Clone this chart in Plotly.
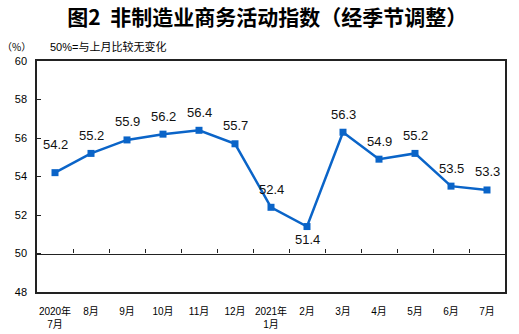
import plotly.graph_objects as go

# Monthly non-manufacturing business activity index (seasonally adjusted)
months = ["2020年<br>7月", "8月", "9月", "10月", "11月", "12月",
          "2021年<br>1月", "2月", "3月", "4月", "5月", "6月", "7月"]
index_values = [54.2, 55.2, 55.9, 56.2, 56.4, 55.7,
                52.4, 51.4, 56.3, 54.9, 55.2, 53.5, 53.3]
y_ticks = [48, 50, 52, 54, 56, 58, 60]

LINE_BLUE = "#0A64C8"
AXIS_COLOR = "#222222"
NUM_FONT = "Liberation Sans, Arial, sans-serif"
CJK_FONT = "Liberation Sans, Noto Sans CJK SC, sans-serif"

fig = go.Figure()

fig.add_trace(go.Scatter(
    x=months, y=index_values,
    mode="lines+markers",
    line=dict(color=LINE_BLUE, width=2.5),
    marker=dict(symbol="square", size=7, color=LINE_BLUE),
    hoverinfo="x+y",
    showlegend=False,
))

# helper trace so the 50% reference axis gets drawn
fig.add_trace(go.Scatter(
    x=months, y=index_values, xaxis="x2",
    mode="lines", line=dict(width=0),
    hoverinfo="skip", showlegend=False,
))

# value labels: above each point, the February low sits below its marker
label_shift = {0: 28, 7: -13}
for i, (m, v) in enumerate(zip(months, index_values)):
    fig.add_annotation(
        x=m, y=v, text=f"{v:.1f}", showarrow=False,
        yanchor="middle", yshift=label_shift.get(i, 18),
        font=dict(family=NUM_FONT, size=13, color="#111111"),
    )

ymin, ymax = y_ticks[0], y_ticks[-1]

fig.update_layout(
    width=519, height=334,
    margin=dict(l=37, r=14, t=61, b=42, autoexpand=False),
    paper_bgcolor="white", plot_bgcolor="white",
    title=dict(
        text="<b>图2  非制造业商务活动指数（经季节调整）</b>",
        x=0.515, xanchor="center", y=0.948, yanchor="middle",
        font=dict(family="Noto Sans CJK SC, sans-serif", size=21, color="#000000"),
    ),
    xaxis=dict(
        type="category", range=[-0.5, len(months) - 0.5],
        showline=True, linecolor=AXIS_COLOR, linewidth=1.5, mirror=True,
        ticks="", showgrid=False, zeroline=False, automargin=False,
        ticklabelstandoff=9,
        tickfont=dict(family=CJK_FONT, size=10, color="#000000"),
    ),
    xaxis2=dict(
        type="category", matches="x", overlaying="x",
        anchor="free", position=(50 - ymin) / (ymax - ymin),
        showline=True, linecolor=AXIS_COLOR, linewidth=1.2,
        ticks="inside", tickson="boundaries", ticklen=4,
        tickcolor=AXIS_COLOR, tickwidth=1, automargin=False,
        showticklabels=False, showgrid=False, zeroline=False,
    ),
    yaxis=dict(
        range=[ymin, ymax], tickvals=y_ticks,
        showline=True, linecolor=AXIS_COLOR, linewidth=1.5, mirror=True,
        ticks="inside", ticklen=4, tickcolor=AXIS_COLOR,
        showgrid=False, zeroline=False, automargin=False,
        ticklabelstandoff=6,
        tickfont=dict(family=NUM_FONT, size=11, color="#000000"),
    ),
)

fig.add_annotation(
    xref="paper", yref="paper", x=-0.008, y=1.0, yshift=15,
    xanchor="right", yanchor="middle", showarrow=False,
    text="（%）", font=dict(family="Noto Sans CJK SC, sans-serif", size=10, color="#000000"),
)
fig.add_annotation(
    xref="paper", yref="paper", x=0.023, y=1.0, yshift=15,
    xanchor="left", yanchor="middle", showarrow=False,
    text="50%=与上月比较无变化",
    font=dict(family=CJK_FONT, size=11, color="#000000"),
)

fig.write_html("out.html")
